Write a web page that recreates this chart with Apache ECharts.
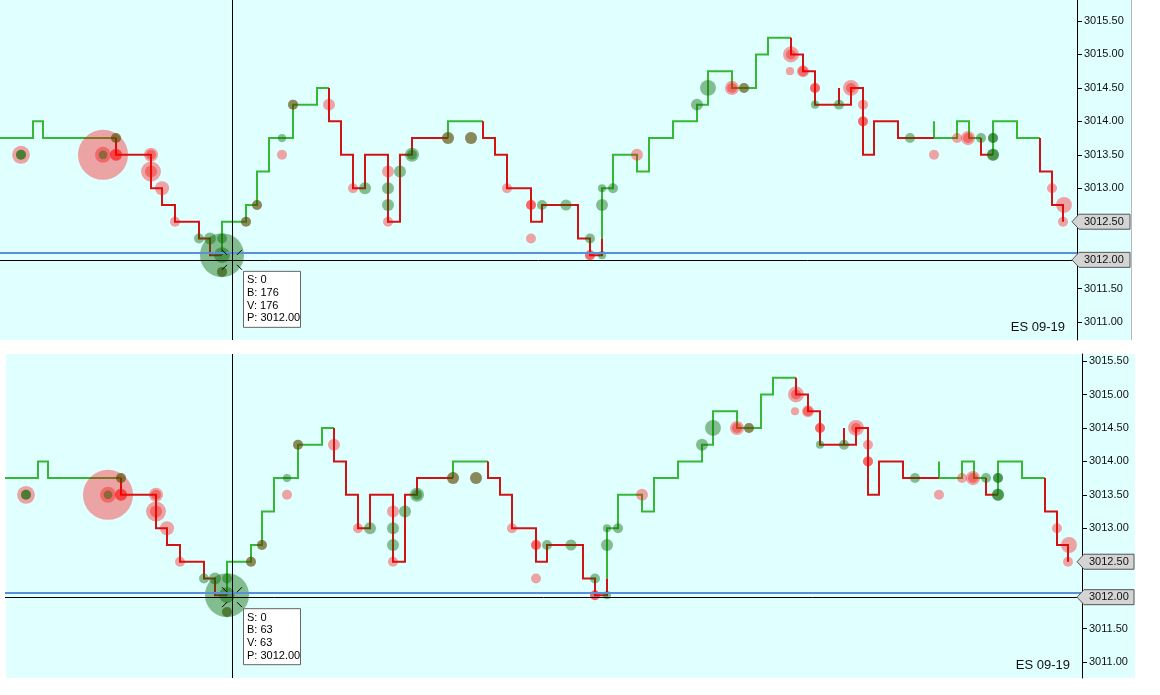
<!DOCTYPE html>
<html><head><meta charset="utf-8">
<script src="https://cdn.jsdelivr.net/npm/echarts@6/dist/echarts.min.js"></script>
<style>
html,body{margin:0;padding:0;background:#fff;}
#wrap{position:relative;width:1160px;height:695px;overflow:hidden;}
.panel{position:absolute;background:#e0ffff;}
#chart{position:absolute;left:0;top:0;width:1160px;height:695px;}
</style></head><body>
<div id="wrap">
<div class="panel" style="left:0;top:0;width:1131px;height:340px;border-right:1px solid #b8b8b8"></div>
<div class="panel" style="left:6px;top:354px;width:1129px;height:324px;"></div>
<div id="chart"></div>
</div>
<script>
// ---- data ----
const tickValues = [3011.00, 3011.50, 3012.00, 3012.50, 3013.00, 3013.50, 3014.00, 3014.50, 3015.00, 3015.50];
const instrument = 'ES 09-19';
// price changes: [time, new price, aggressor side]
const priceEvents = [
  [0,3013.75,'B'],[33,3014.00,'B'],[43,3013.75,'B'],[116,3013.50,'S'],[151,3013.00,'S'],
  [162,3012.75,'S'],[175,3012.50,'S'],[199,3012.25,'S'],[210,3012.00,'S'],[222,3012.50,'B'],
  [246,3012.75,'B'],[257,3013.25,'B'],[269,3013.75,'B'],[293,3014.25,'B'],[317,3014.50,'B'],
  [329,3014.00,'S'],[341,3013.50,'S'],[353,3013.00,'S'],[365,3013.50,'S'],[388,3012.50,'S'],
  [400,3013.50,'S'],[412,3013.75,'S'],[448,3014.00,'B'],[483,3013.75,'S'],[495,3013.50,'S'],
  [507,3013.00,'S'],[531,3012.50,'S'],[542,3012.75,'S'],[578,3012.25,'S'],[590,3012.00,'S'],
  [602,3012.25,'S'],[602,3013.00,'B'],[613,3013.50,'B'],[637,3013.25,'B'],[649,3013.75,'B'],
  [673,3014.00,'B'],[697,3014.25,'B'],[708,3014.75,'B'],[732,3014.50,'B'],[756,3015.00,'B'],
  [768,3015.25,'B'],[791,3015.00,'S'],[803,3014.75,'S'],[815,3014.25,'S'],[839,3014.50,'S'],
  [839,3014.25,'S'],[851,3014.50,'S'],[863,3013.50,'S'],[874,3014.00,'S'],[898,3013.75,'S'],
  [934,3014.00,'B'],[934,3013.75,'B'],[957,3014.00,'B'],[969,3013.75,'B'],[981,3013.50,'S'],
  [993,3014.00,'B'],[1017,3013.75,'B'],[1040,3013.25,'S'],[1052,3012.75,'S'],[1063,3012.50,'S']
];
// sell volume bubbles: [time, price, volume]
const sells = [
  [21,3013.50,29],[103,3013.50,227],[103,3013.50,23],[116,3013.50,13],[116,3013.50,13],
  [116,3013.75,9],[151,3013.50,18],[151,3013.50,9],[151,3013.25,36],[151,3013.25,13],
  [162,3013.00,18],[175,3012.50,9],[222,3011.75,9],[246,3012.50,9],[257,3012.75,9],
  [282,3013.50,9],[293,3014.25,9],[329,3014.25,13],[353,3013.00,9],[388,3013.25,13],
  [388,3012.50,9],[448,3013.75,13],[471,3013.75,13],[507,3013.00,9],[531,3012.75,9],
  [531,3012.75,9],[531,3012.25,9],[590,3012.00,9],[590,3012.00,9],[637,3013.50,13],
  [732,3014.50,18],[732,3014.50,9],[744,3014.50,9],[791,3015.00,23],[791,3015.00,9],
  [790,3014.75,6],[803,3014.75,13],[803,3014.75,9],[815,3014.50,9],[815,3014.50,9],
  [851,3014.50,23],[851,3014.50,9],[863,3014.25,9],[863,3014.00,9],[863,3014.00,9],
  [934,3013.50,9],[957,3013.75,9],[968,3013.75,18],[968,3013.75,9],[1052,3013.00,9],
  [1064,3012.75,23],[1063,3012.50,9]
];
// buy volume bubbles: [time, price, volume]
const buys = [
  [21,3013.50,9],[21,3013.50,9],[103,3013.50,7],[116,3013.75,9],[199,3012.25,9],
  [210,3012.25,13],[222,3012.25,9],[222,3012.00,176],[222,3012.00,23],[222,3011.75,9],
  [246,3012.50,9],[257,3012.75,9],[282,3013.75,6],[293,3014.25,9],[365,3013.00,13],
  [388,3013.00,13],[388,3012.75,13],[400,3013.25,13],[412,3013.50,18],[412,3013.50,9],
  [448,3013.75,13],[471,3013.75,13],[542,3012.75,9],[566,3012.75,11],[590,3012.25,9],
  [602,3012.00,6],[602,3012.75,13],[602,3013.00,6],[613,3013.00,9],[697,3014.25,13],
  [708,3014.50,23],[744,3014.50,9],[815,3014.25,6],[839,3014.25,9],[910,3013.75,9],
  [981,3013.75,9],[993,3013.75,9],[993,3013.75,9],[993,3013.50,13],[993,3013.50,13]
];
const refLevel = 3012.04;
const cursorTimes = [232, 227];
const cursorPrices = [3011.93, 3011.97];
const cursorInfo = [
  ['S: 0', 'B: 176', 'V: 176', 'P: 3012.00'],
  ['S: 0', 'B: 63', 'V: 63', 'P: 3012.00']
];

// ---- layout / style ----
const FONT = '"Liberation Sans", Arial, sans-serif';
const panels = [
  {left: 0, top: 0, width: 1077, height: 340, min: 3010.732, max: 3015.814, right: 1131},
  {left: 5, top: 354, width: 1077, height: 324, min: 3010.762, max: 3015.605, right: 1135}
];
const UP = '#36b836', DN = '#d01414';
const BUY = 'rgba(10,105,0,0.55)', SELL = 'rgba(255,0,0,0.45)';
const sizeOf = v => 2 * 1.66 * Math.sqrt(v);
const lastPrice = priceEvents[priceEvents.length - 1][1];

function buildRuns(side) {
  const runs = []; let cur = null;
  for (let i = 0; i < priceEvents.length; i++) {
    const [t, p, s] = priceEvents[i];
    if (s !== side) { cur = null; continue; }
    if (!cur) { cur = []; runs.push(cur); cur.push([t, i > 0 ? priceEvents[i-1][1] : p]); }
    cur.push([t, p]);
    if (i + 1 < priceEvents.length) cur.push([priceEvents[i+1][0], p]);
  }
  return runs.map(c => ({coords: c}));
}
const upRuns = buildRuns('B'), dnRuns = buildRuns('S');

const grid = [], xAxis = [], yAxis = [], series = [];
panels.forEach((P, k) => {
  const tags = [lastPrice, cursorPrices[k]];
  const labelVals = tickValues.filter(v => tags.every(t => Math.abs(v - t) > 0.12));
  grid.push({left: P.left, top: P.top, width: P.width, height: P.height, show: false, containLabel: false});
  xAxis.push({type: 'value', gridIndex: k, min: 0, max: 1077, show: false});
  yAxis.push({
    type: 'value', gridIndex: k, position: 'right', min: P.min, max: P.max,
    axisLine: {show: true, onZero: false, lineStyle: {color: '#000', width: 1}},
    axisTick: {show: true, length: 5, lineStyle: {color: '#000'}, customValues: tickValues},
    axisLabel: {show: true, margin: 7, color: '#111', fontSize: 11, fontFamily: FONT,
      customValues: labelVals, formatter: v => v.toFixed(2)},
    splitLine: {show: false}
  });
  series.push({type: 'lines', coordinateSystem: 'cartesian2d', xAxisIndex: k, yAxisIndex: k,
    polyline: true, data: upRuns, lineStyle: {color: UP, width: 2, opacity: 1}, z: 2, silent: true});
  series.push({type: 'lines', coordinateSystem: 'cartesian2d', xAxisIndex: k, yAxisIndex: k,
    polyline: true, data: dnRuns, lineStyle: {color: DN, width: 2, opacity: 1}, z: 2, silent: true});
  series.push({type: 'scatter', xAxisIndex: k, yAxisIndex: k, data: sells,
    symbolSize: d => sizeOf(d[2]), itemStyle: {color: SELL}, z: 3, silent: true});
  series.push({type: 'scatter', xAxisIndex: k, yAxisIndex: k, data: buys,
    symbolSize: d => sizeOf(d[2]), itemStyle: {color: BUY}, z: 4, silent: true,
    markLine: {silent: true, symbol: 'none', animation: false, label: {show: false},
      data: [
        {yAxis: refLevel, lineStyle: {color: '#5b8fd9', width: 2, type: 'solid'}},
        {yAxis: cursorPrices[k], lineStyle: {color: '#000', width: 1, type: 'solid'}},
        {xAxis: cursorTimes[k], lineStyle: {color: '#000', width: 1, type: 'solid'}}
      ]}});
});

const chart = echarts.init(document.getElementById('chart'), null, {renderer: 'canvas'});
chart.setOption({animation: false, backgroundColor: 'transparent', grid, xAxis, yAxis, series});

// overlay decorations positioned through the axes
const graphic = [];
panels.forEach((P, k) => {
  const axisX = P.left + P.width;
  const tagPrices = [lastPrice, cursorPrices[k]];
  const tagTexts = [lastPrice.toFixed(2), (Math.round(cursorPrices[k] * 4) / 4).toFixed(2)];
  tagPrices.forEach((p, j) => {
    const yc = chart.convertToPixel({yAxisIndex: k}, p);
    const x0 = axisX - 5, x1 = P.right - 1;
    graphic.push({type: 'polygon', z: 100,
      shape: {points: [[x0, yc], [x0 + 7, yc - 7.5], [x1, yc - 7.5], [x1, yc + 7.5], [x0 + 7, yc + 7.5]]},
      style: {fill: '#d4d4d4', stroke: '#555', lineWidth: 1}});
    graphic.push({type: 'text', z: 101, x: axisX + 7, y: yc,
      style: {text: tagTexts[j], font: '11px ' + FONT, fill: '#111', verticalAlign: 'middle'}});
  });
  // reticle around the cursor
  const [cx, cy] = chart.convertToPixel({xAxisIndex: k, yAxisIndex: k}, [cursorTimes[k], cursorPrices[k]]);
  [[-1,-1],[1,-1],[-1,1],[1,1]].forEach(([sx, sy]) => {
    graphic.push({type: 'line', z: 100,
      shape: {x1: cx + sx * 5, y1: cy + sy * 5, x2: cx + sx * 10, y2: cy + sy * 10},
      style: {stroke: '#000', lineWidth: 1}});
  });
  // info box
  graphic.push({type: 'rect', z: 100, shape: {x: cx + 11.5, y: cy + 11.5, width: 57, height: 56},
    style: {fill: '#fff', stroke: '#666', lineWidth: 1}});
  cursorInfo[k].forEach((s, j) => {
    graphic.push({type: 'text', z: 101, x: cx + 15, y: cy + 20.5 + j * 12.7,
      style: {text: s, font: '11px ' + FONT, fill: '#000', verticalAlign: 'middle'}});
  });
  graphic.push({type: 'text', z: 101, x: axisX - 12, y: P.top + P.height - 13,
    style: {text: instrument, font: '13px ' + FONT, fill: '#111', align: 'right', verticalAlign: 'middle'}});
});
chart.setOption({graphic});
</script>
</body></html>
